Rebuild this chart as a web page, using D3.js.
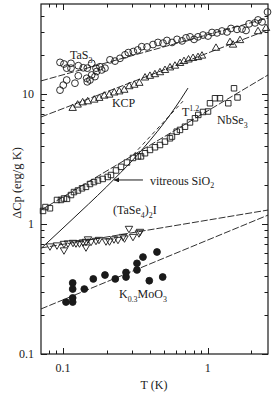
<!DOCTYPE html>
<html lang="en">
<head>
<meta charset="utf-8">
<title>Delta Cp vs T</title>
<script src="https://d3js.org/d3.v7.min.js"></script>
<style>
  body { margin: 0; background: #fff; }
  svg { display: block; }
  text { font-family: "Liberation Serif", "Times New Roman", serif; fill: #1a1a1a; }
</style>
</head>
<body>
<div id="chart"></div>
<script>
// values, [T (K), dCp (erg/g K)]
var tas3 = [[0.0954,17.5],[0.1016,17.0],[0.1061,15.8],[0.1136,17.2],[0.1136,15.8],[0.1276,16.5],
  [0.1381,15.9],[0.1472,15.8],[0.1579,17.2],[0.1691,15.8],[0.1802,16.2],[0.1951,15.8],[0.2113,18.3],
  [0.2288,17.9],[0.2477,18.8],[0.2683,20.0],[0.2827,20.8],[0.3061,21.2],[0.3282,21.8],
  [0.0954,10.7],[0.1005,11.7],[0.1061,12.8],[0.1210,12.1],[0.1276,13.8],[0.1458,13.2],[0.1472,12.4],
  [0.1537,12.8],[0.1579,14.0],[0.1664,13.6],[0.1710,14.9],[0.1851,15.3],
  [0.350,23.1],[0.381,23.0],[0.419,24.0],[0.453,24.9],[0.491,24.6],[0.523,25.8],[0.567,24.9],
  [0.614,26.3],[0.665,25.6],[0.708,27.0],[0.755,27.5],[0.805,26.3],[0.857,27.5],[0.928,28.4],
  [1.005,27.9],[1.071,29.7],[1.160,29.5],[1.255,30.5],[1.360,30.0],[1.449,31.9],[1.594,31.4],
  [1.726,31.6],[1.840,30.8],[1.930,34.6],[2.123,35.2],[2.227,37.1],[2.373,35.8],[2.59,42.7]];

var kcp = [[0.1167,7.76],[0.1263,8.23],[0.1368,8.57],[0.1482,8.73],[0.1646,8.99],[0.1781,9.27],
  [0.1930,9.65],[0.2089,9.82],[0.2262,10.2],[0.2449,10.4],[0.2652,10.7],[0.2871,11.4],[0.3110,11.7],
  [0.3368,12.1],[0.369,13.3],[0.399,13.7],[0.432,14.1],[0.468,14.6],[0.507,15.2],[0.549,15.9],
  [0.594,16.4],[0.644,17.2],[0.686,17.8],[0.737,18.3],[0.792,18.8],[0.857,19.1],[0.913,19.6],
  [1.141,22.5],[1.426,24.9],[1.496,23.8],[1.672,25.8],[2.227,30.2],[2.528,32.0]];

var nbse3 = [[0.0728,1.26],[0.0757,1.35],[0.0813,1.32],[0.0909,1.53],[0.0969,1.53],[0.1016,1.57],
  [0.1066,1.56],[0.1136,1.67],[0.1191,1.76],[0.1269,1.81],[0.1353,1.88],[0.1442,1.93],[0.1537,2.03],
  [0.1638,2.10],[0.1745,2.16],[0.1881,2.22],[0.2037,2.30],[0.2147,2.38],[0.2325,2.58],[0.2518,2.75],
  [0.2769,2.97],[0.3046,3.22],[0.3299,3.31],[0.3460,3.31],[0.3687,3.50],[0.3993,3.71],[0.4323,3.89],
  [0.4682,4.05],[0.5069,4.30],[0.5489,4.56],[0.5665,4.70],[0.6108,5.13],[0.6435,5.29],[0.6969,5.60],
  [0.7545,6.04],[0.8168,6.50],[0.861,6.90],[0.928,7.27],[1.005,7.33],[1.037,8.48],[1.123,9.27],
  [1.216,9.27],[1.388,8.48],[1.520,11.06],[1.607,9.40]];

var tase4 = [[0.0813,0.677],[0.0909,0.689],[0.1016,0.708],[0.1016,0.631],[0.1083,0.714],[0.1173,0.721],
  [0.1230,0.714],[0.1300,0.714],[0.1375,0.727],[0.1442,0.734],[0.1442,0.665],[0.1489,0.767],
  [0.1562,0.734],[0.1691,0.747],[0.1773,0.760],[0.1982,0.740],[0.2096,0.740],[0.2251,0.767],
  [0.2399,0.760],[0.2599,0.801],[0.2661,0.780],[0.2858,0.924],[0.3046,0.801],[0.3352,0.853],[0.3405,0.876]];

var kmoo3 = [[0.1049,0.251],[0.1167,0.251],[0.1167,0.270],[0.1167,0.316],[0.1167,0.352],[0.1404,0.316],
  [0.1620,0.378],[0.1951,0.405],[0.2299,0.378],[0.2726,0.391],[0.2726,0.424],[0.3246,0.443],
  [0.3246,0.498],[0.3571,0.557],[0.3948,0.366],[0.4463,0.609],[0.4887,0.391]];

// fitted lines (end points) and reference curves
var fitTaS3 = [[0.0705,12.6],[2.61,38.4]];
var fitKCP = [[0.0705,6.65],[2.61,31.1]];
var fitNbSe3 = [[0.0705,1.28],[2.61,14.0]];
var fitTaSe4 = [[0.0705,0.654],[2.61,1.28]];
var fitKMoO3 = [[0.0705,0.222],[2.61,1.17]];
var sio2 = [[0.0712,0.654],[0.1,0.93],[0.15,1.42],[0.2,1.93],[0.25,2.48],[0.3,3.06],[0.35,3.70],
  [0.4,4.40],[0.45,5.16],[0.5,6.0],[0.55,6.92],[0.6,7.94],[0.65,9.06],[0.731,11.1]];
var t12 = [[0.305,3.40],[0.675,8.8]];

var xTickLabels = [0.1, 1];
var yTickLabels = [0.1, 1, 10];

var W = 273, H = 399;
var plotL = 41, plotR = 268, plotT = 4, plotB = 354;
var ink = "#1a1a1a";

var svg = d3.select("#chart").append("svg").attr("width", W).attr("height", H);

var x = d3.scaleLog().domain([0.0705, 2.61]).range([plotL, plotR]);
var y = d3.scaleLog().domain([0.1, 49.2]).range([plotB, plotT]);

// minor / major ticks, all pointing inward
function drawTicks() {
  var xt = x.ticks(), yt = y.ticks();
  var isMajor = function(v) { return Math.abs(Math.log10(v) - Math.round(Math.log10(v))) < 1e-6; };
  var g = svg.append("g").attr("stroke", ink).attr("stroke-width", 1);
  xt.forEach(function(v) {
    var len = isMajor(v) ? 6 : 3.5, px = Math.round(x(v)) + 0.5;
    g.append("line").attr("x1", px).attr("x2", px).attr("y1", plotB).attr("y2", plotB - len);
    g.append("line").attr("x1", px).attr("x2", px).attr("y1", plotT).attr("y2", plotT + len);
  });
  yt.forEach(function(v) {
    var len = isMajor(v) ? 6 : 3.5, py = Math.round(y(v)) + 0.5;
    g.append("line").attr("x1", plotL).attr("x2", plotL + len).attr("y1", py).attr("y2", py);
    g.append("line").attr("x1", plotR).attr("x2", plotR - len).attr("y1", py).attr("y2", py);
  });
  svg.append("rect").attr("x", plotL).attr("y", plotT).attr("width", plotR - plotL).attr("height", plotB - plotT)
    .attr("fill", "none").attr("stroke", ink).attr("stroke-width", 1.2);

  svg.selectAll(".ylab").data(yTickLabels).enter().append("text").attr("class", "ylab")
    .attr("x", 34).attr("y", function(d) { return y(d) + 4; })
    .attr("text-anchor", "end").style("font-size", "12px").text(function(d) { return d; });
  svg.selectAll(".xlab").data(xTickLabels).enter().append("text").attr("class", "xlab")
    .attr("x", function(d) { return x(d); }).attr("y", 372)
    .attr("text-anchor", "middle").style("font-size", "12px").text(function(d) { return d; });
}

var line = d3.line().x(function(d) { return x(d[0]); }).y(function(d) { return y(d[1]); });

function drawLines() {
  [fitTaS3, fitKCP, fitNbSe3, fitTaSe4, fitKMoO3].forEach(function(f) {
    svg.append("path").attr("d", line(f)).attr("fill", "none").attr("stroke", ink)
      .attr("stroke-width", 0.9).attr("stroke-dasharray", "7,2");
  });
  svg.append("path").attr("d", line.curve(d3.curveMonotoneX)(sio2)).attr("fill", "none")
    .attr("stroke", ink).attr("stroke-width", 1);
  line.curve(d3.curveLinear);
  svg.append("path").attr("d", line(t12)).attr("fill", "none").attr("stroke", ink)
    .attr("stroke-width", 0.9).attr("stroke-dasharray", "4,3");
}

function drawPoints(data, shape, filled) {
  var sym = d3.symbol().type(shape == "square" ? d3.symbolSquare : d3.symbolTriangle)
    .size(shape == "square" ? 30 : 24);
  var g = svg.append("g");
  if (shape == "circle") {
    g.selectAll("circle").data(data).enter().append("circle")
      .attr("cx", function(d) { return x(d[0]); }).attr("cy", function(d) { return y(d[1]); })
      .attr("r", 3.4).attr("fill", filled ? ink : "none").attr("stroke", ink).attr("stroke-width", 0.9);
  } else {
    g.selectAll("path").data(data).enter().append("path")
      .attr("d", sym)
      .attr("transform", function(d) {
        return "translate(" + x(d[0]) + "," + y(d[1]) + ")" + (shape == "down" ? " rotate(180)" : "");
      })
      .attr("fill", "none").attr("stroke", ink).attr("stroke-width", 0.9);
  }
}

// text with sub / superscripts
function richText(pos, parts, size) {
  var t = svg.append("text").attr("x", x(pos[0])).attr("y", y(pos[1])).style("font-size", size + "px");
  var shift = 0;
  parts.forEach(function(p) {
    var target = p[1] == "sub" ? size * 0.3 : (p[1] == "sup" ? -size * 0.42 : 0);
    t.append("tspan").attr("dy", target - shift)
      .style("font-size", (p[1] ? size * 0.66 : size) + "px").text(p[0]);
    shift = target;
  });
}

var labels = [
  {pos: [0.1118, 18.6], parts: [["TaS"], ["3", "sub"]]},
  {pos: [0.218, 7.94], parts: [["KCP"]]},
  {pos: [0.664, 6.77], parts: [["T"], ["1.2", "sup"]]},
  {pos: [1.16, 5.88], parts: [["NbSe"], ["3", "sub"]]},
  {pos: [0.399, 2.0], parts: [["vitreous SiO"], ["2", "sub"]]},
  {pos: [0.2216, 1.194], parts: [["(TaSe"], ["4", "sub"], [")"], ["2", "sub"], ["I"]]},
  {pos: [0.2438, 0.2697], parts: [["K"], ["0.3", "sub"], ["MoO"], ["3", "sub"]]}
];
var arrowFrom = [0.357, 2.18], arrowTo = [0.2251, 2.18];

drawTicks();
drawLines();
drawPoints(tas3, "circle", false);
drawPoints(kcp, "up", false);
drawPoints(nbse3, "square", false);
drawPoints(tase4, "down", false);
drawPoints(kmoo3, "circle", true);

labels.forEach(function(l) { richText(l.pos, l.parts, 12); });

svg.append("defs").append("marker").attr("id", "ah").attr("viewBox", "0 0 10 10")
  .attr("refX", 10).attr("refY", 5).attr("markerWidth", 6).attr("markerHeight", 5)
  .attr("orient", "auto").append("path").attr("d", "M0,0 L10,5 L0,10 Z").attr("fill", ink);
svg.append("line").attr("x1", x(arrowFrom[0])).attr("y1", y(arrowFrom[1]))
  .attr("x2", x(arrowTo[0])).attr("y2", y(arrowTo[1]))
  .attr("stroke", ink).attr("stroke-width", 1).attr("marker-end", "url(#ah)");

// axis titles
svg.append("text").attr("x", 154).attr("y", 389).attr("text-anchor", "middle")
  .style("font-size", "12px").text("T (K)");
svg.append("text").attr("transform", "translate(21,183) rotate(-90)").attr("text-anchor", "middle")
  .style("font-size", "12.5px").text("\u0394Cp (erg/g K)");
</script>
</body>
</html>
